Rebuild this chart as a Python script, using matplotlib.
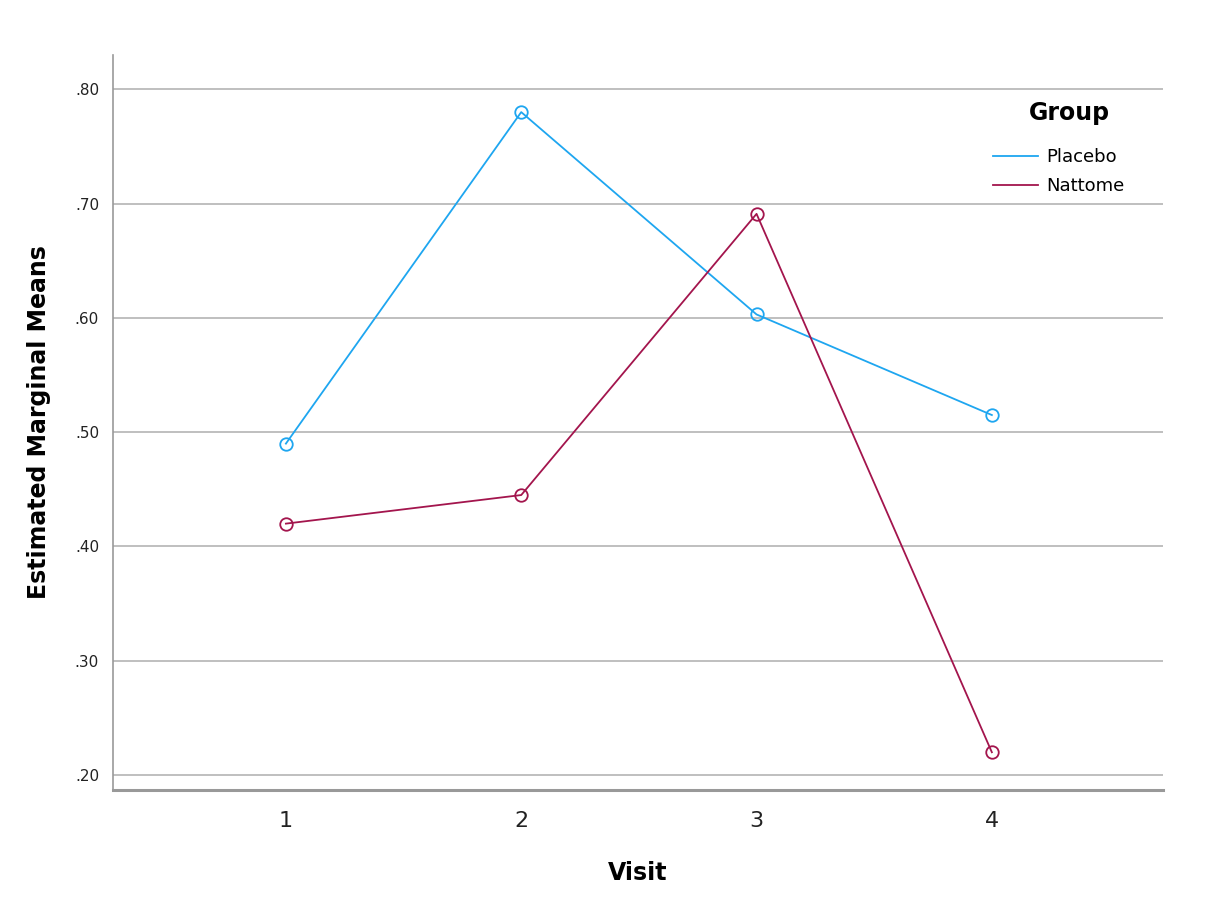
import matplotlib.pyplot as plt
import numpy as np

# estimated marginal means
visits = [1, 2, 3, 4]
placebo = [0.490, 0.780, 0.603, 0.515]
nattome = [0.420, 0.445, 0.691, 0.220]
y_ticks = [0.20, 0.30, 0.40, 0.50, 0.60, 0.70, 0.80]
y_tick_labels = ['.20', '.30', '.40', '.50', '.60', '.70', '.80']

plt.rcParams['font.family'] = ['DejaVu Sans']

fig = plt.figure(figsize=(12.08, 8.98), dpi=100)
ax = fig.add_axes([0.0935, 0.1203, 0.869, 0.8185])

ax.plot(visits, placebo, color='#1EA6F0', lw=1.3, marker='o', ms=9,
        mfc='none', mec='#1EA6F0', mew=1.3, label='Placebo', zorder=3)
ax.plot(visits, nattome, color='#A3154D', lw=1.3, marker='o', ms=9,
        mfc='none', mec='#A3154D', mew=1.3, label='Nattome', zorder=3)

ax.set_xlim(0.265, 4.726)
ax.set_ylim(0.187, 0.830)
ax.set_xticks(visits)
ax.set_xticklabels([str(v) for v in visits], fontsize=16)
ax.set_yticks(y_ticks)
ax.set_yticklabels(y_tick_labels, fontsize=11)
ax.tick_params(axis='both', length=0, colors='#222222')
ax.tick_params(axis='x', pad=15)
ax.tick_params(axis='y', pad=10)

ax.grid(axis='y', color='#B4B4B4', lw=1.2)
ax.set_axisbelow(True)
for side in ['top', 'right']:
    ax.spines[side].set_visible(False)
ax.spines['left'].set_color('#999999')
ax.spines['bottom'].set_color('#999999')
ax.spines['bottom'].set_linewidth(2.2)
ax.spines['left'].set_linewidth(1.2)

ax.set_xlabel('Visit', fontsize=17, fontweight='bold', labelpad=22)
ax.set_ylabel('Estimated Marginal Means', fontsize=17, fontweight='bold', labelpad=17)

# legend title drawn separately so the gap to the entries matches
ax.text(0.911, 0.921, 'Group', transform=ax.transAxes, ha='center', va='center',
        fontsize=17, fontweight='bold')
leg = ax.legend(loc='upper left', bbox_to_anchor=(0.838, 0.873),
                frameon=False, fontsize=13, handlelength=2.5, handletextpad=0.45,
                labelspacing=0.6, borderpad=0, borderaxespad=0)
for h in leg.legend_handles:
    h.set_marker('')

plt.savefig('out.png', dpi=100)
